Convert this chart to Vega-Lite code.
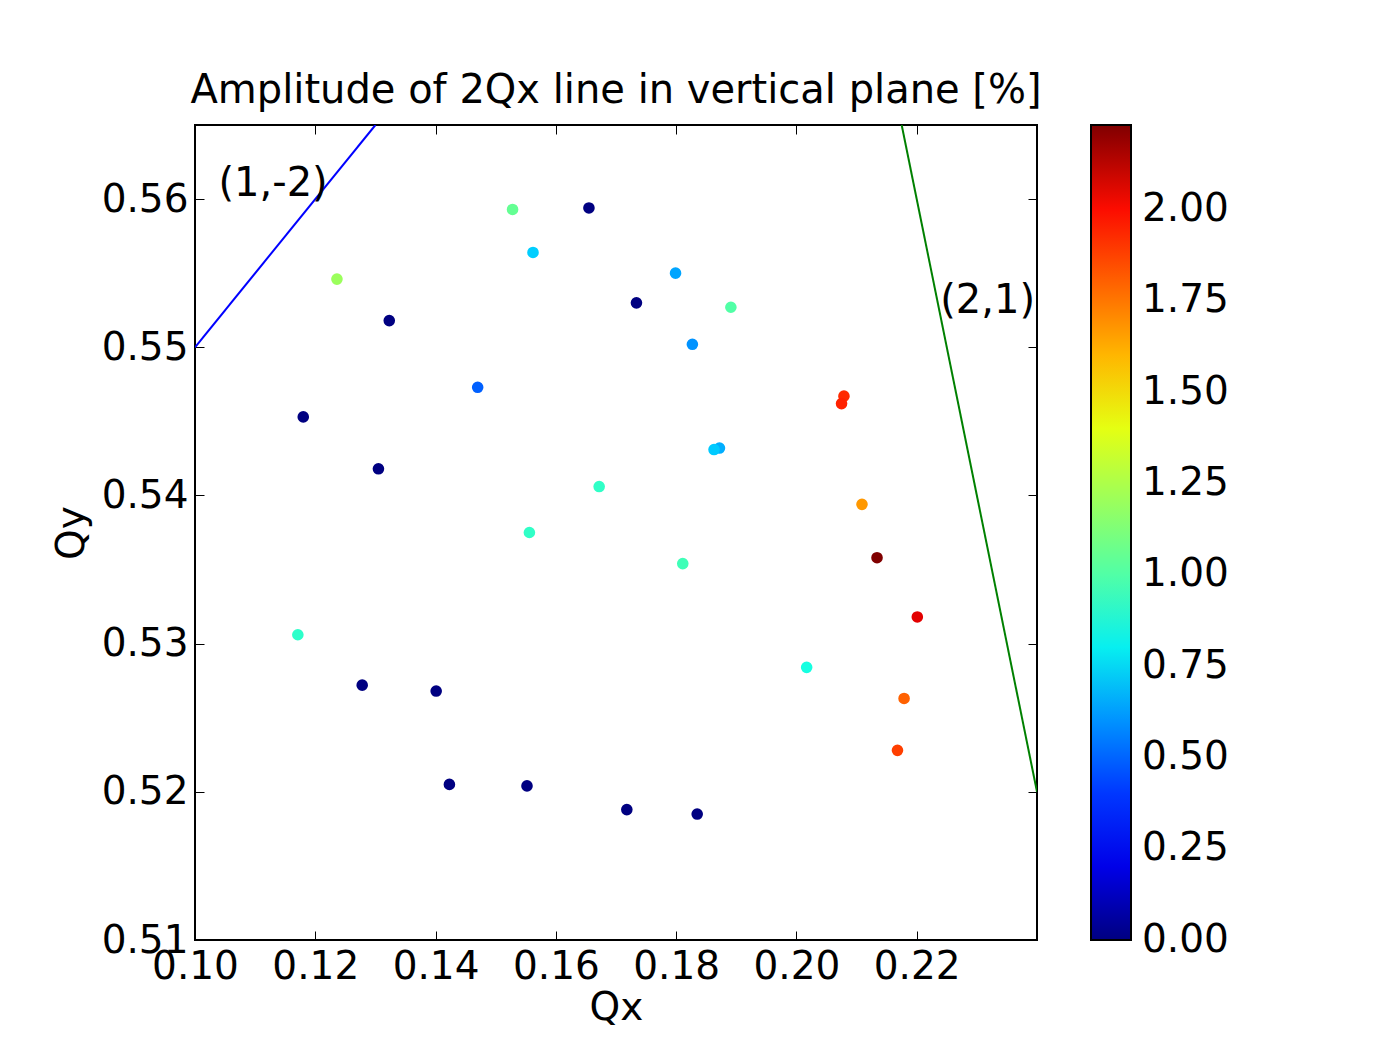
{
  "$schema": "https://vega.github.io/schema/vega-lite/v6.json",
  "autosize": {"type": "none"},
  "padding": {"left": 195, "top": 125, "right": 349, "bottom": 114},
  "width": 842,
  "height": 815,
  "background": "white",
  "title": {"text": "Amplitude of 2Qx line in vertical plane [%]", "font": "DejaVu Sans", "fontSize": 40, "fontWeight": "normal", "color": "black", "anchor": "middle", "frame": "group", "offset": 14},
  "datasets": {
    "pts": [
      {"Qx": 0.1528, "Qy": 0.5593, "A": 1.05},
      {"Qx": 0.1655, "Qy": 0.5594, "A": 0.0},
      {"Qx": 0.1562, "Qy": 0.5564, "A": 0.73},
      {"Qx": 0.1236, "Qy": 0.5546, "A": 1.2},
      {"Qx": 0.1323, "Qy": 0.5518, "A": 0.0},
      {"Qx": 0.1470, "Qy": 0.5473, "A": 0.49},
      {"Qx": 0.1180, "Qy": 0.5453, "A": 0.0},
      {"Qx": 0.1305, "Qy": 0.5418, "A": 0.0},
      {"Qx": 0.1799, "Qy": 0.5550, "A": 0.64},
      {"Qx": 0.1734, "Qy": 0.5530, "A": 0.0},
      {"Qx": 0.1891, "Qy": 0.5527, "A": 1.0},
      {"Qx": 0.1827, "Qy": 0.5502, "A": 0.6},
      {"Qx": 0.2079, "Qy": 0.5467, "A": 1.93},
      {"Qx": 0.2075, "Qy": 0.5462, "A": 1.95},
      {"Qx": 0.1872, "Qy": 0.5432, "A": 0.66},
      {"Qx": 0.1863, "Qy": 0.5431, "A": 0.72},
      {"Qx": 0.1672, "Qy": 0.5406, "A": 0.91},
      {"Qx": 0.1556, "Qy": 0.5375, "A": 0.91},
      {"Qx": 0.1171, "Qy": 0.5306, "A": 0.9},
      {"Qx": 0.1278, "Qy": 0.5272, "A": 0.0},
      {"Qx": 0.1401, "Qy": 0.5268, "A": 0.0},
      {"Qx": 0.1423, "Qy": 0.5205, "A": 0.0},
      {"Qx": 0.1552, "Qy": 0.5204, "A": 0.0},
      {"Qx": 0.1811, "Qy": 0.5354, "A": 0.95},
      {"Qx": 0.2109, "Qy": 0.5394, "A": 1.67},
      {"Qx": 0.2134, "Qy": 0.5358, "A": 2.23},
      {"Qx": 0.2201, "Qy": 0.5318, "A": 2.06},
      {"Qx": 0.2017, "Qy": 0.5284, "A": 0.84},
      {"Qx": 0.2179, "Qy": 0.5263, "A": 1.8},
      {"Qx": 0.2168, "Qy": 0.5228, "A": 1.88},
      {"Qx": 0.1718, "Qy": 0.5188, "A": 0.0},
      {"Qx": 0.1835, "Qy": 0.5185, "A": 0.0}
    ],
    "res12": [{"Qx": 0.10, "Qy": 0.55}, {"Qx": 0.13, "Qy": 0.565}],
    "res21": [{"Qx": 0.2175, "Qy": 0.565}, {"Qx": 0.24, "Qy": 0.52}],
    "labels": [{"Qx": 0.1039, "Qy": 0.5602, "t": "(1,-2)"}, {"Qx": 0.2239, "Qy": 0.5523, "t": "(2,1)"}]
  },
  "layer": [
    {
      "data": {"name": "res12"},
      "mark": {"type": "line", "color": "#0000ff", "strokeWidth": 2, "clip": true},
      "encoding": {
        "x": {"field": "Qx", "type": "quantitative", "scale": {"domain": [0.10, 0.24], "nice": false, "zero": false},
              "axis": {"orient": "top", "title": null, "labels": false, "values": [0.10, 0.12, 0.14, 0.16, 0.18, 0.20, 0.22], "tickSize": -9, "tickColor": "black", "tickWidth": 1, "domain": false, "grid": false}},
        "y": {"field": "Qy", "type": "quantitative", "scale": {"domain": [0.51, 0.565], "nice": false, "zero": false},
              "axis": {"orient": "right", "title": null, "labels": false, "values": [0.51, 0.52, 0.53, 0.54, 0.55, 0.56], "tickSize": -9, "tickColor": "black", "tickWidth": 1, "domain": false, "grid": false}}
      }
    },
    {
      "data": {"name": "res21"},
      "mark": {"type": "line", "color": "#008000", "strokeWidth": 2, "clip": true},
      "encoding": {
        "x": {"field": "Qx", "type": "quantitative", "axis": null},
        "y": {"field": "Qy", "type": "quantitative", "axis": null}
      }
    },
    {
      "data": {"name": "pts"},
      "mark": {"type": "circle", "size": 135, "opacity": 1},
      "encoding": {
        "x": {"field": "Qx", "type": "quantitative", "title": "Qx",
              "axis": {"orient": "bottom", "values": [0.10, 0.12, 0.14, 0.16, 0.18, 0.20, 0.22], "format": ".2f", "tickSize": -9, "tickColor": "black", "tickWidth": 1, "domain": false, "grid": false, "labelPadding": 16, "labelFlush": false, "labelOverlap": false, "labelBound": false, "titlePadding": 2}},
        "y": {"field": "Qy", "type": "quantitative", "title": "Qy",
              "axis": {"orient": "left", "values": [0.51, 0.52, 0.53, 0.54, 0.55, 0.56], "format": ".2f", "tickSize": -9, "tickColor": "black", "tickWidth": 1, "domain": false, "grid": false, "labelPadding": 16, "labelFlush": false, "labelOverlap": false, "labelBound": false, "titlePadding": 10}},
        "color": {"field": "A", "type": "quantitative",
                  "scale": {"domain": [-0.001, 0.2453, 0.27875, 0.7582, 0.7805, 0.83625, 1.4272, 1.4495, 1.4718, 1.9847, 2.0293, 2.23],
                            "range": ["#000080", "#0000ff", "#0000ff", "#00dbff", "#00e6f7", "#15ffe2", "#efff08", "#f7f500", "#ffec00", "#ff1300", "#f50000", "#800000"],
                            "interpolate": "rgb"},
                  "legend": {"title": null, "orient": "right", "offset": 53, "padding": 0, "gradientLength": 815, "gradientThickness": 40, "gradientStrokeColor": "black", "gradientStrokeWidth": 2,
                             "values": [0, 0.25, 0.5, 0.75, 1.0, 1.25, 1.5, 1.75, 2.0], "format": ".2f", "labelFontSize": 39, "labelFont": "DejaVu Sans", "labelColor": "black", "labelOffset": 11, "labelOverlap": false, "labelBaseline": "middle",
                             "encode": {"labels": {"update": {"baseline": {"value": "middle"}}}}}}
      }
    },
    {
      "data": {"name": "labels"},
      "mark": {"type": "text", "align": "left", "baseline": "alphabetic", "font": "DejaVu Sans", "fontSize": 40, "color": "black"},
      "encoding": {
        "x": {"field": "Qx", "type": "quantitative", "axis": null},
        "y": {"field": "Qy", "type": "quantitative", "axis": null},
        "text": {"field": "t"}
      }
    }
  ],
  "resolve": {"axis": {"x": "independent", "y": "independent"}},
  "config": {
    "view": {"stroke": "black", "strokeWidth": 2},
    "axis": {"labelFont": "DejaVu Sans", "labelFontSize": 39, "labelColor": "black", "titleFont": "DejaVu Sans", "titleFontSize": 39, "titleFontWeight": "normal", "titleColor": "black"}
  }
}
